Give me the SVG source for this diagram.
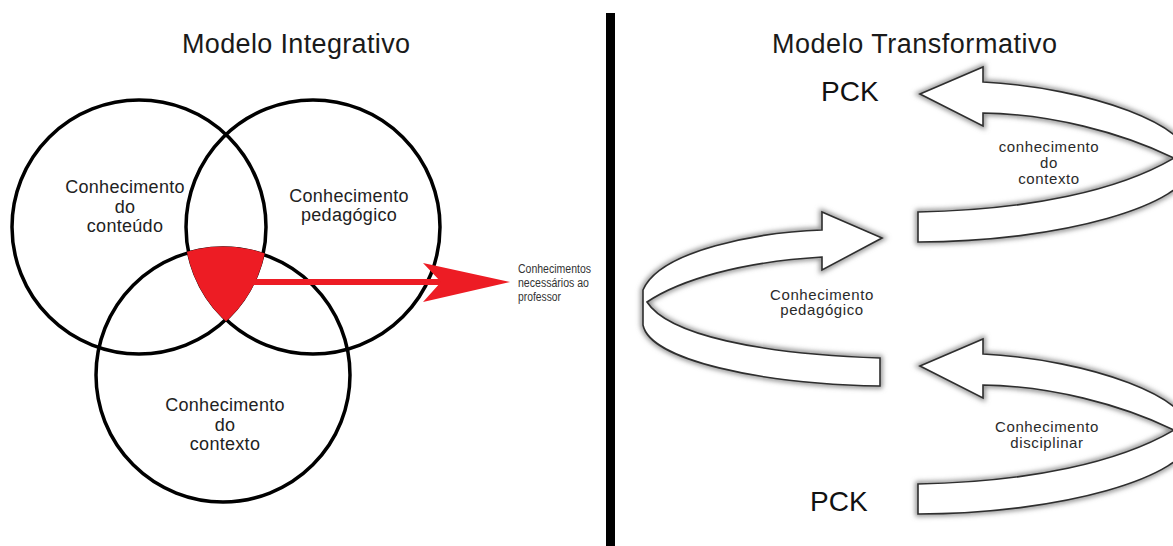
<svg xmlns="http://www.w3.org/2000/svg" xmlns:xlink="http://www.w3.org/1999/xlink" width="1173" height="546" viewBox="0 0 1173 546">
  <style>
    .ttl { font-family: "Liberation Sans", Arial, sans-serif; font-size: 27px; fill: #1a1a1a; }
    .lbl { font-family: "Liberation Sans", Arial, sans-serif; font-size: 18px; fill: #222; text-anchor: middle; letter-spacing: 0.3px; }
    .sm { font-family: "Liberation Sans", Arial, sans-serif; font-size: 12px; fill: #333; }
    .rl { font-family: "Liberation Sans", Arial, sans-serif; font-size: 15px; fill: #2a2a2a; text-anchor: middle; letter-spacing: 0.6px; }
    .pck { font-family: "Liberation Sans", Arial, sans-serif; font-size: 28px; fill: #111; }
    .ring { fill: none; stroke: #000; stroke-width: 3.5; }
    .glow { fill: none; stroke: #8a8a8a; stroke-width: 5; filter: url(#soft); }
    .rib { fill: #fff; stroke: #2e2e2e; stroke-width: 1.6; stroke-linejoin: miter; }
    .red { fill: #ed1c24; }
  </style>
  <defs>
    <filter id="soft" x="-20%" y="-20%" width="140%" height="140%">
      <feGaussianBlur stdDeviation="2.5"/>
    </filter>
    <clipPath id="clipC2"><circle cx="313" cy="227" r="128.5"/></clipPath>
    <clipPath id="clipC3"><circle cx="223" cy="375" r="128.5"/></clipPath>
    <path id="ribR" d="M 920 94 L 983 67 L 983 82 C 1090 88 1195 125 1192 165 C 1189 205 1060 242 918 242 L 918 212 C 1030 210 1120 190 1174 158 C 1120 132 1050 114 983 113 L 983 126 Z"/>
    <path id="ribL" d="M 882 238 L 822 212 L 822 230 C 760 232 660 250 643 290 L 643 325 C 650 360 760 384 880 386 L 880 358 C 760 354 668 335 647 302 C 680 280 740 262 822 257 L 822 270 Z"/>
  </defs>

  <rect x="0" y="0" width="1173" height="546" fill="#fff"/>

  <!-- Left: Modelo Integrativo -->
  <g id="title-integrativo">
    <text class="ttl" x="182" y="53" textLength="228">Modelo Integrativo</text>
  </g>

  <g id="circle-conteudo">
    <circle class="ring" cx="139" cy="227" r="127"/>
    <text class="lbl" x="125" y="193">Conhecimento</text>
    <text class="lbl" x="125" y="213">do</text>
    <text class="lbl" x="125" y="232">conteúdo</text>
  </g>

  <g id="circle-pedagogico">
    <circle class="ring" cx="313" cy="227" r="127"/>
    <text class="lbl" x="349" y="202">Conhecimento</text>
    <text class="lbl" x="349" y="221">pedagógico</text>
  </g>

  <g id="circle-contexto">
    <circle class="ring" cx="223" cy="375" r="127"/>
    <text class="lbl" x="225" y="411">Conhecimento</text>
    <text class="lbl" x="225" y="431">do</text>
    <text class="lbl" x="225" y="450">contexto</text>
  </g>

  <g id="intersection">
    <g clip-path="url(#clipC3)">
      <circle class="red" cx="139" cy="227" r="128.5" clip-path="url(#clipC2)"/>
    </g>
  </g>

  <g id="connectors">
    <line x1="245" y1="282" x2="446" y2="282" stroke="#ed1c24" stroke-width="6"/>
    <path class="red" d="M 423 263 L 510 282 L 423 302 L 441 282 Z"/>
  </g>

  <g id="label-professor">
    <text class="sm" x="518" y="273" textLength="73" lengthAdjust="spacingAndGlyphs">Conhecimentos</text>
    <text class="sm" x="518" y="287" textLength="71" lengthAdjust="spacingAndGlyphs">necessários ao</text>
    <text class="sm" x="518" y="301" textLength="43" lengthAdjust="spacingAndGlyphs">professor</text>
  </g>

  <!-- Divider -->
  <g id="divider">
    <rect x="606" y="13" width="9" height="533" fill="#000"/>
  </g>

  <!-- Right: Modelo Transformativo -->
  <g id="title-transformativo">
    <text class="ttl" x="772" y="53" textLength="285">Modelo Transformativo</text>
  </g>

  <g id="pck-top">
    <text class="pck" x="821" y="101">PCK</text>
  </g>

  <g id="arrow-contexto">
    <use xlink:href="#ribR" class="glow"/>
    <use xlink:href="#ribR" class="rib"/>
    <text class="rl" x="1049" y="152">conhecimento</text>
    <text class="rl" x="1049" y="168">do</text>
    <text class="rl" x="1049" y="184">contexto</text>
  </g>

  <g id="arrow-pedagogico">
    <use xlink:href="#ribL" class="glow"/>
    <use xlink:href="#ribL" class="rib"/>
    <text class="rl" x="822" y="300">Conhecimento</text>
    <text class="rl" x="822" y="315">pedagógico</text>
  </g>

  <g id="arrow-disciplinar">
    <use xlink:href="#ribR" class="glow" transform="translate(0,272)"/>
    <use xlink:href="#ribR" class="rib" transform="translate(0,272)"/>
    <text class="rl" x="1047" y="432">Conhecimento</text>
    <text class="rl" x="1047" y="448">disciplinar</text>
  </g>

  <g id="pck-bottom">
    <text class="pck" x="810" y="511">PCK</text>
  </g>
</svg>
